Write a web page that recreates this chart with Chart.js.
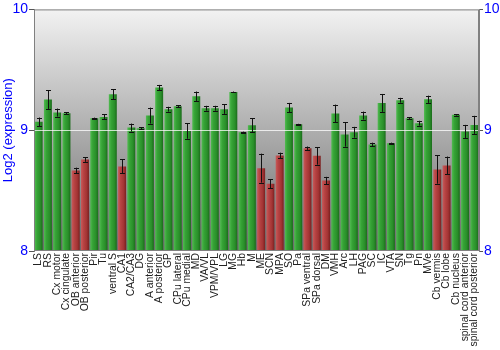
<!DOCTYPE html>
<html>
<head>
<meta charset="utf-8">
<script src="https://cdn.jsdelivr.net/npm/chart.js@4.4.0/dist/chart.umd.min.js"></script>
<style>
  html, body { margin: 0; padding: 0; background: #fff; }
  #wrap { width: 500px; height: 350px; }
</style>
</head>
<body>
<div id="wrap"><canvas id="exprChart"></canvas></div>
<script>
const categories = ['LS', 'RS', 'Cx motor', 'Cx cingulate', 'OB anterior', 'OB posterior', 'Pir', 'Tu',
  'ventral S', 'CA1', 'CA2/CA3', 'DG', 'A anterior', 'A posterior', 'GP', 'CPu lateral', 'CPu medial',
  'MD', 'VA/VL', 'VPM/VPL', 'LG', 'MG', 'Hb', 'M', 'ME', 'SCN', 'MPA', 'SO', 'Pa', 'SPa ventral',
  'SPa dorsal', 'DM', 'VMH', 'Arc', 'LH', 'PAG', 'SC', 'IC', 'VTA', 'SN', 'Tg', 'Pn', 'MVe',
  'Cb vermis', 'Cb lobe', 'Cb nucleus', 'spinal cord anterior', 'spinal cord posterior']

const expression = [9.069, 9.254, 9.146, 9.140, 8.667, 8.758, 9.099, 9.110,
  9.298, 8.700, 9.022, 9.017, 9.121, 9.353, 9.174, 9.198, 8.994,
  9.281, 9.182, 9.182, 9.174, 9.317, 8.983, 9.041, 8.686, 8.556, 8.791, 9.187, 9.050, 8.851,
  8.788, 8.584, 9.138, 8.964, 8.983, 9.121, 8.882, 9.226, 8.893, 9.248, 9.099, 9.058, 9.256,
  8.675, 8.708, 9.127, 8.989, 9.044]

const stdErr = [0.036, 0.078, 0.033, 0.008, 0.023, 0.020, 0.005, 0.020,
  0.040, 0.058, 0.033, 0.008, 0.066, 0.022, 0.020, 0.010, 0.065,
  0.039, 0.020, 0.020, 0.039, 0.003, 0.005, 0.058, 0.120, 0.036, 0.023, 0.039, 0.003, 0.014,
  0.073, 0.030, 0.074, 0.100, 0.045, 0.033, 0.015, 0.074, 0.004, 0.020, 0.010, 0.020, 0.030,
  0.118, 0.074, 0.006, 0.055, 0.075]

const yTicks = [8, 9, 10]
const lowCutoff = 8.86

// cylinder-like shading across each bar, lit from the left
function barFill(context) {
  const chart = context.chart
  const xs = chart.scales.x
  const i = context.dataIndex
  const low = expression[i] < lowCutoff
  if (!xs || !chart.chartArea) return low ? '#a83232' : '#2f9a2f'
  const cx = xs.getPixelForValue(i)
  const half = xs.width / categories.length * 0.86 / 2
  const g = chart.ctx.createLinearGradient(cx - half, 0, cx + half, 0)
  if (low) {
    g.addColorStop(0, '#c85a5a')
    g.addColorStop(0.3, '#b84444')
    g.addColorStop(0.7, '#a33434')
    g.addColorStop(1, '#7a2020')
  } else {
    g.addColorStop(0, '#52bb52')
    g.addColorStop(0.3, '#36a336')
    g.addColorStop(0.7, '#2a8f2a')
    g.addColorStop(1, '#1b6b1b')
  }
  return g
}

const plotDecor = {
  id: 'plotDecor',
  beforeDraw(chart) {
    const { ctx, chartArea: a } = chart
    const g = ctx.createLinearGradient(0, a.top, 0, a.bottom)
    g.addColorStop(0, '#f2f2f2')
    g.addColorStop(1, '#6a6a6a')
    ctx.save()
    ctx.fillStyle = g
    ctx.fillRect(a.left, a.top, a.right - a.left, a.bottom - a.top)
    ctx.restore()
  },
  afterDatasetsDraw(chart) {
    const { ctx, chartArea: a } = chart
    const ys = chart.scales.y
    const meta = chart.getDatasetMeta(0)
    ctx.save()
    // reference line at 9
    const y9 = Math.round(ys.getPixelForValue(9)) + 0.5
    ctx.strokeStyle = 'rgba(255,255,255,0.75)'
    ctx.lineWidth = 1
    ctx.beginPath()
    ctx.moveTo(a.left, y9)
    ctx.lineTo(a.right, y9)
    ctx.stroke()
    // error bars
    ctx.strokeStyle = '#111'
    meta.data.forEach((bar, i) => {
      const x = Math.round(bar.x) + 0.5
      const top = ys.getPixelForValue(expression[i] + stdErr[i])
      const bot = ys.getPixelForValue(expression[i] - stdErr[i])
      ctx.beginPath()
      ctx.moveTo(x, top)
      ctx.lineTo(x, bot)
      ctx.moveTo(x - 2.5, Math.round(top) + 0.5)
      ctx.lineTo(x + 2.5, Math.round(top) + 0.5)
      ctx.moveTo(x - 2.5, Math.round(bot) + 0.5)
      ctx.lineTo(x + 2.5, Math.round(bot) + 0.5)
      ctx.stroke()
    })
    // frame
    ctx.strokeStyle = '#808080'
    ctx.strokeRect(a.left + 0.5, a.top + 0.5, a.right - a.left - 1, a.bottom - a.top - 1)
    ctx.restore()
  }
}

const tickFont = { family: 'Liberation Sans, Arial', size: 14 }

new Chart(document.getElementById('exprChart'), {
  type: 'bar',
  data: {
    labels: categories,
    datasets: [{
      data: expression,
      backgroundColor: barFill,
      borderWidth: 0,
      categoryPercentage: 1,
      barPercentage: 0.86
    }]
  },
  options: {
    responsive: true,
    maintainAspectRatio: false,
    animation: false,
    layout: { padding: { top: 9, left: 0, right: 0, bottom: 0 } },
    plugins: { legend: { display: false }, tooltip: { enabled: false } },
    scales: {
      x: {
        grid: { display: false, drawTicks: false },
        border: { display: false },
        ticks: {
          autoSkip: false,
          minRotation: 90,
          maxRotation: 90,
          padding: 2,
          color: '#222',
          font: { family: 'Liberation Sans, Arial', size: 10.4 }
        },
        afterFit(scale) { scale.height = 99 }
      },
      y: {
        position: 'left',
        min: 8,
        max: 10,
        afterBuildTicks(scale) { scale.ticks = yTicks.map(v => ({ value: v })) },
        grid: { display: true, drawOnChartArea: false, tickLength: 5, color: '#555' },
        border: { display: true, color: '#808080' },
        ticks: { color: '#0000ff', font: tickFont, padding: 1 },
        title: {
          display: true,
          text: 'Log2 (expression)',
          color: '#0000ff',
          font: { family: 'Liberation Sans, Arial', size: 13 },
          padding: { top: 1, bottom: 0 }
        },
        afterFit(scale) { scale.width = 34 }
      },
      y2: {
        position: 'right',
        min: 8,
        max: 10,
        afterBuildTicks(scale) { scale.ticks = yTicks.map(v => ({ value: v })) },
        grid: { display: true, drawOnChartArea: false, tickLength: 4, color: '#555' },
        border: { display: true, color: '#808080' },
        ticks: { color: '#0000ff', font: tickFont, padding: 1 },
        afterFit(scale) { scale.width = 21 }
      }
    }
  },
  plugins: [plotDecor]
})
</script>
</body>
</html>
